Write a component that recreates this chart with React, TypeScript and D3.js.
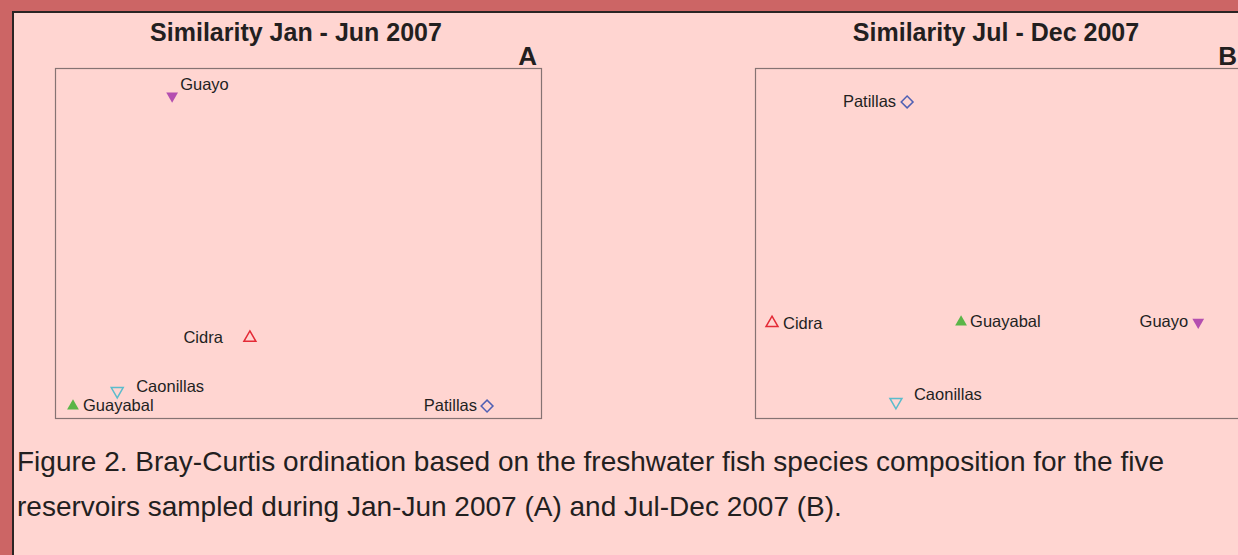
import React from "react";
import * as d3 from "d3";

// ordination scores (axis units 0-100, arbitrary)
const sites = ["Guayo", "Cidra", "Caonillas", "Guayabal", "Patillas"];
const janJunX = [24.1, 40.1, 12.8, 3.7, 88.9];
const janJunY = [92.0, 22.9, 7.7, 3.4, 3.4];
const julDecX = [91.2, 3.5, 29.0, 42.4, 31.3];
const julDecY = [27.4, 27.1, 4.6, 27.4, 90.3];

const panelTitles = ["Similarity Jan - Jun 2007", "Similarity Jul - Dec 2007"];
const panelLetters = ["A", "B"];
const captionLines = [
  "Figure 2. Bray-Curtis ordination based on the freshwater fish species composition for the five",
  "reservoirs sampled during Jan-Jun 2007 (A) and Jul-Dec 2007 (B).",
];

// marker look per site
const markerStyle = {
  Guayo: { shape: "triangle", down: true, filled: true, color: "#b44fb0" },
  Cidra: { shape: "triangle", down: false, filled: false, color: "#e42a36" },
  Caonillas: { shape: "triangle", down: true, filled: false, color: "#5bbccc" },
  Guayabal: { shape: "triangle", down: false, filled: true, color: "#5ab548" },
  Patillas: { shape: "diamond", down: false, filled: false, color: "#5060b4" },
};

// label placement per panel (anchor, dx, dy relative to the marker)
const labelPlacement = [
  {
    Guayo: ["start", 8, -6],
    Cidra: ["end", -27, 5],
    Caonillas: ["start", 19, 1],
    Guayabal: ["start", 10, 5],
    Patillas: ["end", -10, 5],
  },
  {
    Guayo: ["end", -10, 5],
    Cidra: ["start", 11, 6],
    Caonillas: ["start", 18, -2],
    Guayabal: ["start", 9, 5],
    Patillas: ["end", -11, 5],
  },
];

const FONT = "'Liberation Sans', Arial, Helvetica, sans-serif";

class App extends React.Component {
  constructor(props) {
    super(props);
    this.width = 1238;
    this.height = 555;
    this.boxW = 486;
    this.boxH = 350;
    this.boxTop = 68;
    this.boxLefts = [55, 755];
    this.svgRef = React.createRef();

    this.d3Render = this.d3Render.bind(this);
    this.drawFrame = this.drawFrame.bind(this);
    this.drawPanel = this.drawPanel.bind(this);
    this.drawCaption = this.drawCaption.bind(this);
  }

  componentDidMount() {
    this.d3Render();
  }

  d3Render() {
    const svg = d3.select(this.svgRef.current);
    svg.selectAll("*").remove();
    this.drawFrame(svg);
    this.drawPanel(svg, 0, janJunX, janJunY);
    this.drawPanel(svg, 1, julDecX, julDecY);
    this.drawCaption(svg);
  }

  drawFrame(svg) {
    const { width, height } = this;
    svg.append("rect")
      .attr("width", width)
      .attr("height", height)
      .attr("fill", "#cc6565");

    svg.append("rect")
      .attr("x", 13)
      .attr("y", 12)
      .attr("width", width)
      .attr("height", height)
      .attr("fill", "#ffd5d1")
      .attr("stroke", "#2a2424")
      .attr("stroke-width", 2);
  }

  drawPanel(svg, i, xs, ys) {
    const { boxW, boxH, boxTop } = this;
    const left = this.boxLefts[i];

    const xScale = d3.scaleLinear().domain([0, 100]).range([left, left + boxW]);
    const yScale = d3.scaleLinear().domain([0, 100]).range([boxTop + boxH, boxTop]);

    const g = svg.append("g");

    g.append("rect")
      .attr("x", left + 0.5)
      .attr("y", boxTop + 0.5)
      .attr("width", boxW)
      .attr("height", boxH)
      .attr("fill", "none")
      .attr("stroke", "#857373")
      .attr("stroke-width", 1.2);

    g.append("text")
      .attr("x", left + boxW / 2 - 2)
      .attr("y", 41)
      .attr("text-anchor", "middle")
      .attr("font-family", FONT)
      .attr("font-weight", "bold")
      .attr("font-size", 25)
      .attr("fill", "#231f1f")
      .text(panelTitles[i]);

    g.append("text")
      .attr("x", left + boxW - 4)
      .attr("y", 65)
      .attr("text-anchor", "end")
      .attr("font-family", FONT)
      .attr("font-weight", "bold")
      .attr("font-size", 26)
      .attr("fill", "#231f1f")
      .text(panelLetters[i]);

    const points = sites.map((s, k) => ({ site: s, x: xs[k], y: ys[k] }));
    const tri = d3.symbol().type(d3.symbolTriangle);
    const sq = d3.symbol().type(d3.symbolSquare).size(70);

    const marks = g.selectAll("g.site")
      .data(points)
      .enter()
      .append("g")
      .attr("class", "site")
      .attr("transform", d => "translate(" + xScale(d.x) + "," + yScale(d.y) + ")");

    marks.append("path")
      .attr("d", d => {
        const m = markerStyle[d.site];
        if (m.shape === "diamond") return sq();
        return tri.size(m.filled ? 60 : 62)();
      })
      .attr("transform", d => {
        const m = markerStyle[d.site];
        if (m.shape === "diamond") return "rotate(45)";
        return m.down ? "rotate(180)" : null;
      })
      .attr("fill", d => (markerStyle[d.site].filled ? markerStyle[d.site].color : "none"))
      .attr("stroke", d => markerStyle[d.site].color)
      .attr("stroke-width", d => (markerStyle[d.site].filled ? 0 : 1.5));

    marks.append("text")
      .attr("x", d => labelPlacement[i][d.site][1])
      .attr("y", d => labelPlacement[i][d.site][2])
      .attr("text-anchor", d => labelPlacement[i][d.site][0])
      .attr("font-family", FONT)
      .attr("font-size", 16.5)
      .attr("fill", "#231f1f")
      .text(d => d.site);
  }

  drawCaption(svg) {
    svg.append("g")
      .selectAll("text")
      .data(captionLines)
      .enter()
      .append("text")
      .attr("x", 17)
      .attr("y", (d, k) => 471 + k * 45)
      .attr("font-family", FONT)
      .attr("font-size", 28)
      .attr("fill", "#231f1f")
      .text(d => d);
  }

  render() {
    return (
      <svg
        ref={this.svgRef}
        width={this.width}
        height={this.height}
        style={{ position: "absolute", left: 0, top: 0, display: "block" }}
      ></svg>
    );
  }
}

export default App;
